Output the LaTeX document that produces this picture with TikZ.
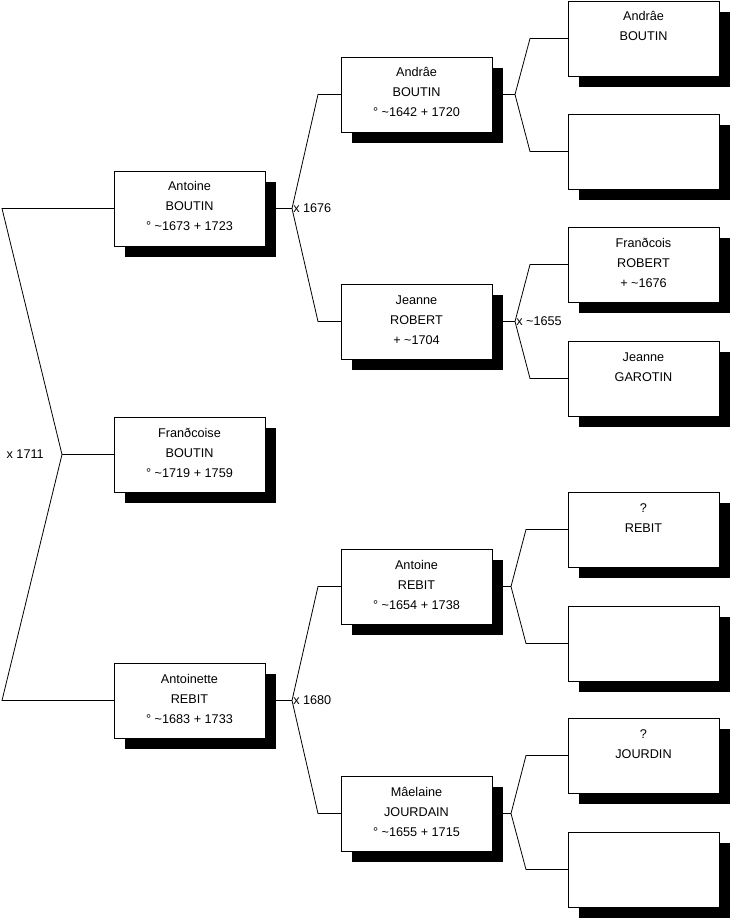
\documentclass[tikz,border=0pt]{standalone}
\usepackage{fontspec}
\setmainfont{Liberation Sans}
\usetikzlibrary{shadows,backgrounds,calc}
\newcommand\tld{\textasciitilde}
\newcommand\pgbox[1]{\parbox[c][56.25pt][t]{113.25pt}{\centering\fontsize{9.5}{15}\selectfont\rule{0pt}{15pt}#1\par}}
\tikzset{
  person/.style={draw=black, line width=0.6pt, fill=white, inner sep=0pt, outer sep=0pt, anchor=north west,
    general shadow={fill=black, draw=none, shadow xshift=8.25pt, shadow yshift=-8.25pt}},
  link/.style={draw=black, line width=0.6pt},
  lbl/.style={inner sep=0pt, font=\fontsize{9.5}{11}\selectfont}
}
\begin{document}
\begin{tikzpicture}[x=0.75pt, y=-0.75pt]
\useasboundingbox (0,0) rectangle (731,920);
% generation 1
\node[person] (a1) at (114,171) {\pgbox{Antoine\\BOUTIN\\° \tld1673 + 1723}};
\node[person] (a2) at (114,417) {\pgbox{Franðcoise\\BOUTIN\\° \tld1719 + 1759}};
\node[person] (a3) at (114,663) {\pgbox{Antoinette\\REBIT\\° \tld1683 + 1733}};
% generation 2
\node[person] (b1) at (341,57) {\pgbox{Andrâe\\BOUTIN\\° \tld1642 + 1720}};
\node[person] (b2) at (341,284) {\pgbox{Jeanne\\ROBERT\\+ \tld1704}};
\node[person] (b3) at (341,549) {\pgbox{Antoine\\REBIT\\° \tld1654 + 1738}};
\node[person] (b4) at (341,776) {\pgbox{Mâelaine\\JOURDAIN\\° \tld1655 + 1715}};
% generation 3
\node[person] (c1) at (568,1) {\pgbox{Andrâe\\BOUTIN}};
\node[person] (c2) at (568,114) {\pgbox{}};
\node[person] (c3) at (568,227) {\pgbox{Franðcois\\ROBERT\\+ \tld1676}};
\node[person] (c4) at (568,341) {\pgbox{Jeanne\\GAROTIN}};
\node[person] (c5) at (568,492) {\pgbox{?\\REBIT}};
\node[person] (c6) at (568,606) {\pgbox{}};
\node[person] (c7) at (568,718) {\pgbox{?\\JOURDIN}};
\node[person] (c8) at (568,832) {\pgbox{}};
% junction points
\coordinate (v0) at (62,454.5);
\coordinate (k1) at (2,208.5);
\coordinate (k3) at (2,700.5);
\coordinate (v1) at ($(a1.east)+(27,0)$);
\coordinate (v3) at ($(a3.east)+(27,0)$);
\coordinate (w1) at ($(b1.east)+(23,0)$);
\coordinate (w2) at ($(b2.east)+(23,0)$);
\coordinate (w3) at ($(b3.east)+(19,0)$);
\coordinate (w4) at ($(b4.east)+(19,0)$);
\begin{pgfonlayer}{background}
\draw[link] (a1.west) -- (k1) -- (v0) -- (k3) -- (a3.west);
\draw[link] (v0) -- (a2.west);
\draw[link] (a1.east) -- (v1);
\draw[link] (v1) -- ($(b1.west)+(-23,0)$) -- (b1.west);
\draw[link] (v1) -- ($(b2.west)+(-23,0)$) -- (b2.west);
\draw[link] (a3.east) -- (v3);
\draw[link] (v3) -- ($(b3.west)+(-23,0)$) -- (b3.west);
\draw[link] (v3) -- ($(b4.west)+(-23,0)$) -- (b4.west);
\draw[link] (b1.east) -- (w1);
\draw[link] (w1) -- ($(c1.west)+(-38,0)$) -- (c1.west);
\draw[link] (w1) -- ($(c2.west)+(-38,0)$) -- (c2.west);
\draw[link] (b2.east) -- (w2);
\draw[link] (w2) -- ($(c3.west)+(-38,0)$) -- (c3.west);
\draw[link] (w2) -- ($(c4.west)+(-38,0)$) -- (c4.west);
\draw[link] (b3.east) -- (w3);
\draw[link] (w3) -- ($(c5.west)+(-42,0)$) -- (c5.west);
\draw[link] (w3) -- ($(c6.west)+(-42,0)$) -- (c6.west);
\draw[link] (b4.east) -- (w4);
\draw[link] (w4) -- ($(c7.west)+(-42,0)$) -- (c7.west);
\draw[link] (w4) -- ($(c8.west)+(-42,0)$) -- (c8.west);
\end{pgfonlayer}
% marriage labels
\node[lbl, anchor=east] (m0) at ($(v0)+(-18,0)$) {x 1711};
\node[lbl, anchor=west] (m1) at ($(v1)+(1,0)$) {x 1676};
\node[lbl, anchor=west] (m3) at ($(v3)+(1,0)$) {x 1680};
\node[lbl, anchor=west] (m2) at ($(w2)+(1,0)$) {x \tld1655};
\end{tikzpicture}
\end{document}
